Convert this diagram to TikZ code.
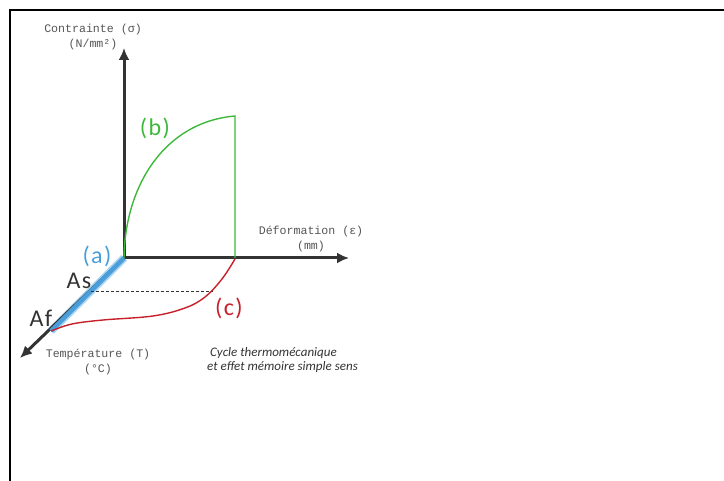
\documentclass[tikz,border=0pt]{standalone}
\usepackage{fontspec}
\setmainfont{Carlito}
\newfontfamily\axisfont{Liberation Mono}
\newfontfamily\labfont[LetterSpace=6]{Carlito}
\newfontfamily\notefont{Carlito}
\usetikzlibrary{arrows.meta}
\definecolor{axisgray}{HTML}{333333}
\definecolor{txtgray}{HTML}{555555}
\definecolor{curvegreen}{HTML}{3DB83A}
\definecolor{curvered}{HTML}{C8202A}
\definecolor{curveblue}{HTML}{4A9FDB}
\definecolor{glowblue}{HTML}{A9D3F2}
\tikzset{
  axis/.style={draw=axisgray, line width=3pt, -{Latex[length=12pt,width=11pt]}},
  axislabel/.style={text=txtgray, font=\axisfont\fontsize{11.6}{15}\selectfont, align=center, inner sep=0pt},
  curvelabel/.style={font=\labfont\fontsize{24}{26}\selectfont, inner sep=0pt},
  notelabel/.style={text=axisgray, font=\notefont\itshape\fontsize{13}{14}\selectfont, inner sep=0pt, anchor=west},
  frameline/.style={draw=black, line width=2pt}
}
\begin{document}
\begin{tikzpicture}[x=1pt,y=-1pt]
\useasboundingbox (0,0) rectangle (724,481);
% frame
\coordinate (fr1) at (724,10);
\coordinate (fr2) at (10,10);
\coordinate (fr3) at (10,481);
\draw[frameline] (fr1) -- (fr2) -- (fr3);
% key points
\coordinate (O) at (124,258);
\coordinate (ytip) at (124,48);
\coordinate (xtip) at (349,258);
\coordinate (ttip) at (20,358);
\coordinate (Afp) at (51,331);
\coordinate (top) at (235,116);
\coordinate (eps) at (235,258);
\coordinate (dashL) at (91,291);
\coordinate (dashR) at (213,291);
% blue segment (a)
\draw[glowblue, line width=8pt] (O) -- (Afp);
% axes
\draw[axis] (O) -- (ytip);
\draw[axis] (O) -- (xtip);
\draw[axis] (O) -- (ttip);
\draw[curveblue, line width=4.5pt] (O) -- (Afp);
% green curve (b)
\draw[curvegreen, line width=1.4pt] (O) .. controls (125,185) and (165,122) .. (top) -- (eps);
% dashed
\draw[axisgray, line width=0.8pt, dash pattern=on 3pt off 2pt] (dashL) -- (dashR);
% red curve (c)
\draw[curvered, line width=1.4pt] plot[smooth, tension=0.6] coordinates {(235,259) (222,279) (205,297) (185,308) (153,316) (103,320) (72,324) (51,331)};
% labels
\node[axislabel] (lsig) at (93,37) {Contrainte (σ)\\(N/mm²)};
\node[axislabel] (leps) at (311,239) {Déformation (ε)\\(mm)};
\node[axislabel] (ltemp) at (98,362) {Température (T)\\(°C)};
\node[curvelabel, text=curveblue] (la) at (97,256) {(a)};
\node[curvelabel, text=curvegreen] (lb) at (155,128) {(b)};
\node[curvelabel, text=curvered] (lc) at (229,308) {(c)};
\node[curvelabel, text=axisgray] (las) at (79,281) {As};
\node[curvelabel, text=axisgray] (laf) at (41,318) {Af};
\node[notelabel] (n1) at (210,353) {Cycle thermomécanique};
\node[notelabel] (n2) at (207,367) {et effet mémoire simple sens};
\end{tikzpicture}
\end{document}
